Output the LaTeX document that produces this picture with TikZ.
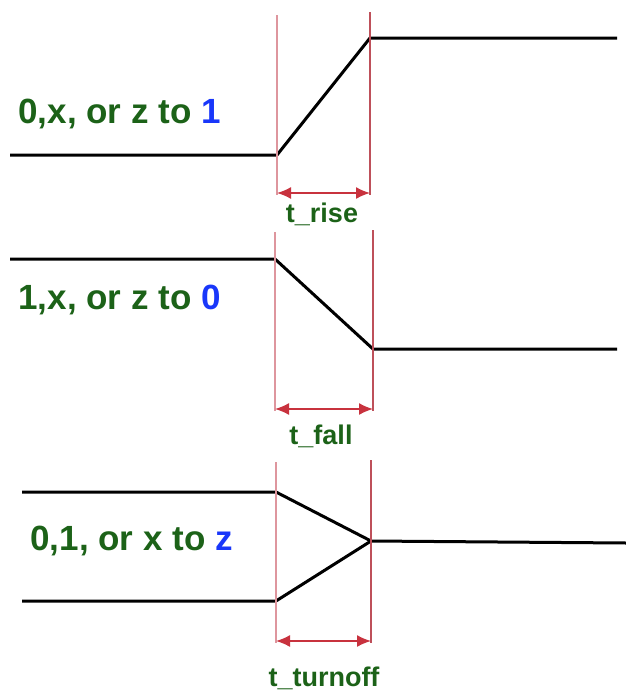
\documentclass[tikz,border=0pt]{standalone}
\usepackage{fontspec}
\setmainfont{Liberation Sans}
\usetikzlibrary{arrows.meta}

\definecolor{txtgreen}{RGB}{28,98,24}
\definecolor{valblue}{RGB}{25,55,250}
\definecolor{edgepink}{RGB}{222,150,158}
\definecolor{edgered}{RGB}{190,80,90}
\definecolor{spanred}{RGB}{200,50,62}

\begin{document}
\begin{tikzpicture}[
			x=1pt, y=-1pt,
			signal/.style={line width=3pt, black, line join=round},
			edge_in/.style={line width=1.8pt, edgepink},
			edge_out/.style={line width=1.8pt, edgered},
			span/.style={line width=1.6pt, spanred, {Latex[length=14pt,width=12pt]}-{Latex[length=14pt,width=12pt]}},
			caption/.style={anchor=base west, text=txtgreen, font=\bfseries\fontsize{35}{40}\selectfont},
			delay/.style={anchor=base, text=txtgreen, font=\bfseries\fontsize{27}{32}\selectfont}
			]
			
			\useasboundingbox (0,0) rectangle (626,691);
			
			% Rise: 0,x or z to 1
			\coordinate (rise_a) at (10,155);
			\coordinate (rise_b) at (277,155);
			\coordinate (rise_c) at (370,38);
			\coordinate (rise_d) at (617,38);
			\draw[signal] (rise_a) -- (rise_b) -- (rise_c) -- (rise_d);
			\draw[edge_in] (277,15) -- (277,195);
			\draw[edge_out] (370,12) -- (370,195);
			\draw[span] (277,193) -- (370,193);
			\node[caption] (rise_txt) at (15,123) {0,x, or z to \textcolor{valblue}{1}};
			\node[delay] (t_rise) at (322,222) {t\_rise};
			
			% Fall: 1,x or z to 0
			\coordinate (fall_a) at (10,259);
			\coordinate (fall_b) at (275,259);
			\coordinate (fall_c) at (373,349);
			\coordinate (fall_d) at (617,349);
			\draw[signal] (fall_a) -- (fall_b) -- (fall_c) -- (fall_d);
			\draw[edge_in] (275,232) -- (275,411);
			\draw[edge_out] (373,230) -- (373,411);
			\draw[span] (275,409) -- (373,409);
			\node[caption] (fall_txt) at (15,309) {1,x, or z to \textcolor{valblue}{0}};
			\node[delay] (t_fall) at (321,444) {t\_fall};
			
			% Turnoff: 0,1 or x to z
			\coordinate (hi_a) at (22,492);
			\coordinate (hi_b) at (276,492);
			\coordinate (lo_a) at (22,601);
			\coordinate (lo_b) at (276,601);
			\coordinate (off_c) at (371,541);
			\coordinate (off_d) at (626,543);
			\draw[signal] (hi_a) -- (hi_b) -- (off_c);
			\draw[signal] (lo_a) -- (lo_b) -- (off_c);
			\draw[signal] (off_c) -- (off_d);
			\draw[edge_in] (276,462) -- (276,643);
			\draw[edge_out] (371,460) -- (371,643);
			\draw[span] (276,641) -- (371,641);
			\node[caption] (off_txt) at (27,550) {0,1, or x to \textcolor{valblue}{z}};
			\node[delay] (t_turnoff) at (324,686) {t\_turnoff};
			
		\end{tikzpicture}
\end{document}
